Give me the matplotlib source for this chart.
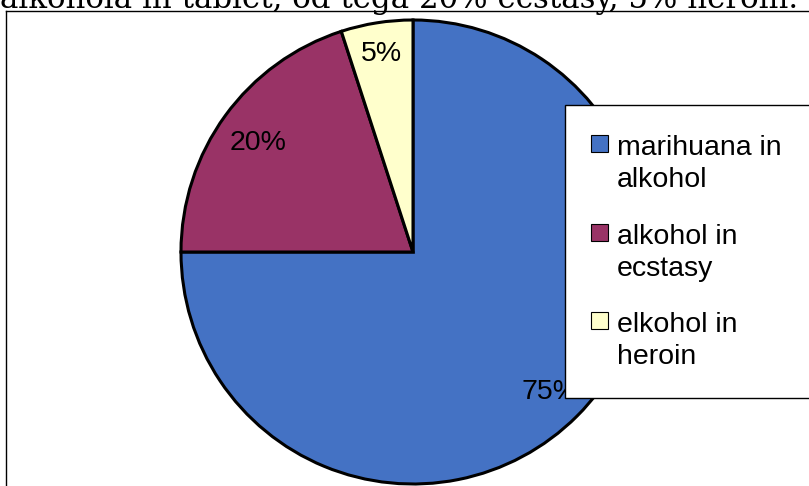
import numpy as np
import matplotlib as mpl
mpl.use('Agg')
import matplotlib.pyplot as plt
from matplotlib.patches import Rectangle
from matplotlib.lines import Line2D

# data
labels = ["marihuana in\nalkohol", "alkohol in\necstasy", "elkohol in\nheroin"]
values = [75, 20, 5]
colors = ["#4472C4", "#993366", "#FFFFCC"]
title = "alkohola in tablet, od tega 20% ecstasy, 5% heroin."

W, H = 809, 486
fig = plt.figure(figsize=(W / 100, H / 100), dpi=100)

def fx(px):
    return px / W

def fy(py):
    return 1 - py / H

# clipped caption from the document above the chart
fig.text(fx(0), fy(8), title, family="DejaVu Serif", fontsize=22.2,
         ha="left", va="baseline", color="black")

# chart frame (only left and top edges visible)
fig.add_artist(Line2D([fx(6), fx(6)], [fy(11), 0], color="black", lw=1.0))
fig.add_artist(Line2D([fx(6), 1], [fy(11), fy(11)], color="black", lw=1.0))

# pie
cx, cy, r = 413, 252, 232
ax = fig.add_axes([fx(cx - r), fy(cy + r), (2 * r) / W, (2 * r) / H])
wedges, texts = ax.pie(
    values, colors=colors, startangle=90, counterclock=False,
    wedgeprops=dict(edgecolor="black", linewidth=2.2),
)
# percentage labels, distance per wedge as placed in the original
label_dist = [0.833, 0.828, 0.881]
half_digit = 10.5 / r
for w, v, d in zip(wedges, values, label_dist):
    ang = np.deg2rad((w.theta1 + w.theta2) / 2)
    ax.text(d * np.cos(ang), d * np.sin(ang) - half_digit, "%d%%" % v,
            family="Liberation Sans", fontsize=20.5, color="black",
            ha="center", va="baseline")
ax.set_xlim(-1.0, 1.0)
ax.set_ylim(-1.0, 1.0)
ax.set_aspect("equal")
ax.axis("off")

# legend box
fig.add_artist(Rectangle((fx(565), fy(398)), fx(809 - 565 + 10), (398 - 105) / H,
                         transform=fig.transFigure, facecolor="white",
                         edgecolor="black", lw=1.0, zorder=5))

sq = 17
for i, (lab, c) in enumerate(zip(labels, colors)):
    base = 155 + 88.5 * i
    fig.add_artist(Rectangle((fx(591), fy(base - 20 + sq)), sq / W, sq / H,
                             transform=fig.transFigure, facecolor=c,
                             edgecolor="black", lw=0.8, zorder=6))
    first, second = lab.split("\n")
    fig.text(fx(617), fy(base), first, family="Liberation Sans",
             fontsize=20.5, ha="left", va="baseline", zorder=6)
    fig.text(fx(617), fy(base + 32), second, family="Liberation Sans",
             fontsize=20.5, ha="left", va="baseline", zorder=6)

fig.savefig("out.png", dpi=100)
